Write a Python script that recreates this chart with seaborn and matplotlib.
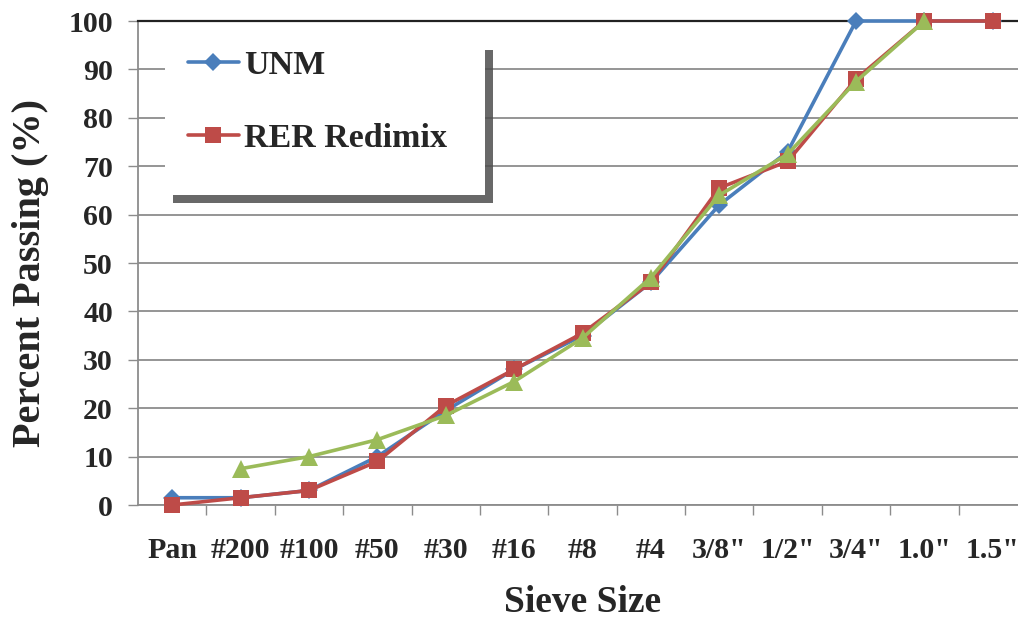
import numpy as np
import pandas as pd
import matplotlib
matplotlib.use("Agg")
import matplotlib.pyplot as plt
import matplotlib.patches as mpatches
import matplotlib.patheffects as pe
import seaborn as sns

# =========================================
# Data
# =========================================
sieves = ['Pan', '#200', '#100', '#50', '#30', '#16', '#8', '#4',
          '3/8"', '1/2"', '3/4"', '1.0"', '1.5"']
unm = [1.5, 1.5, 3.0, 10.0, 19.5, 28.0, 35.0, 46.0, 62.0, 73.0, 100.0, 100.0, 100.0]
rer_redimix = [0.0, 1.5, 3.0, 9.0, 20.5, 28.0, 35.5, 46.0, 65.5, 71.0, 88.0, 100.0, 100.0]
third_mix = [np.nan, 7.5, 10.0, 13.5, 18.5, 25.5, 34.5, 47.0, 64.0, 72.5, 87.5, 100.0, np.nan]

df = pd.DataFrame({'sieve': sieves, 'UNM': unm,
                   'RER Redimix': rer_redimix, 'Mix 3': third_mix})

# =========================================
# Style
# =========================================
sns.set_style("white")
plt.rcParams['font.family'] = ['Liberation Serif', 'DejaVu Serif']
plt.rcParams['font.weight'] = 'bold'

fig = plt.figure(figsize=(10.18, 6.24), dpi=100)
ax = fig.add_axes([138 / 1018, 119 / 624, 889 / 1018, 484 / 624])

line_kw = dict(ax=ax, sort=False, linewidth=2.6, markeredgewidth=0, clip_on=False)
sns.lineplot(data=df, x='sieve', y='UNM', color='#4A7EBB', marker='D',
             markersize=9, label='UNM', zorder=3, **line_kw)
sns.lineplot(data=df, x='sieve', y='RER Redimix', color='#BE4B48', marker='s',
             markersize=12, label='RER Redimix', zorder=4, **line_kw)
sns.lineplot(data=df, x='sieve', y='Mix 3', color='#9BBB59', marker='^',
             markersize=13, label='_nolegend_', zorder=5, **line_kw)

# =========================================
# Axes
# =========================================
ax.set_xlim(-0.5, len(sieves) - 0.5)
ax.set_ylim(0, 100)
ax.set_yticks(range(0, 101, 10))
ax.yaxis.grid(True, color='#8c8c8c', linewidth=1.3)
ax.set_axisbelow(True)

ax.set_xticks(range(len(sieves)))
ax.set_xticklabels(sieves)
ax.set_xticks(np.arange(0.5, len(sieves) - 0.5, 1.0), minor=True)
ax.tick_params(axis='x', which='major', length=0, pad=23, labelsize=21.5)
ax.tick_params(axis='x', which='minor', length=7, width=1, color='#8c8c8c',
               direction='out', bottom=True)
ax.tick_params(axis='y', length=7, width=1, color='#8c8c8c', direction='out',
               left=True, pad=11, labelsize=21.5)
for lab in ax.get_xticklabels() + ax.get_yticklabels():
    lab.set_fontweight('bold')

for side in ['left', 'bottom']:
    ax.spines[side].set_color('#8c8c8c')
    ax.spines[side].set_linewidth(1.3)
ax.spines['top'].set_color('#222222')
ax.spines['top'].set_linewidth(1.6)
ax.spines['right'].set_visible(False)

ax.set_ylabel('Percent Passing (%)', fontsize=29, fontweight='bold')
ax.yaxis.set_label_coords(-0.1, 0.48)
ax.set_xlabel('Sieve Size', fontsize=27, fontweight='bold', labelpad=15)

# =========================================
# Legend: white box with drop shadow, entries near its top
# =========================================
box = mpatches.Rectangle((0.0304, 0.6405), 0.36, 0.316, transform=ax.transAxes,
                         facecolor='white', edgecolor='none', zorder=6,
                         path_effects=[pe.SimplePatchShadow(offset=(6, -6),
                                                            shadow_rgbFace='0.3',
                                                            alpha=0.85),
                                       pe.Normal()])
ax.add_patch(box)

leg = ax.legend(loc='upper left', bbox_to_anchor=(0.0562, 0.940), frameon=False,
                prop={'family': 'Liberation Serif', 'weight': 'bold', 'size': 24.5},
                handlelength=1.5, labelspacing=1.23, borderpad=0,
                handletextpad=0.15, borderaxespad=0)
leg.set_zorder(7)

fig.savefig('out.png', dpi=100)
